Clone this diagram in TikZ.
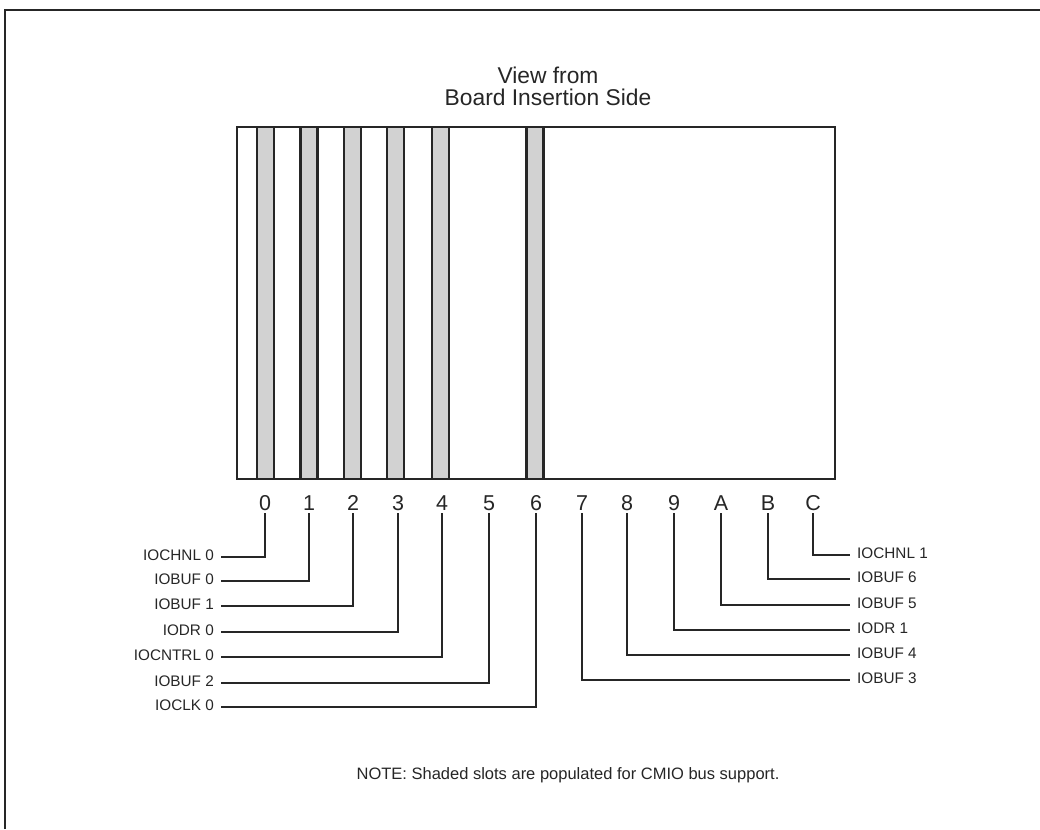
\documentclass[tikz,border=0pt]{standalone}
\usepackage{fontspec}
\setmainfont{Liberation Sans}
\newcommand{\slotshade}[1]{%
  \fill[gray!35] (#1-8.5,127) rectangle (#1+8.5,479);
  \draw[line width=2.2pt] (#1-8.5,127) -- (#1-8.5,479) (#1+8.5,127) -- (#1+8.5,479);}
\tikzset{
  digit/.style={anchor=base, font=\fontsize{21.5}{22}\selectfont, inner sep=3pt, text depth=0pt},
  pinlab/.style={font=\fontsize{15.3}{16}\selectfont, inner xsep=7pt, inner ysep=0pt, text height=0.72em, text depth=0pt},
  wire/.style={line width=1.7pt}}

\begin{document}
\begin{tikzpicture}[x=1pt, y=-1pt, color=black!85]
  \useasboundingbox (0,0) rectangle (1040,829);
  \draw[line width=2pt] (5,829) -- (5,10) -- (1040,10);
  \node[align=center, font=\fontsize{22.8}{22}\selectfont] (titulo) at (548,86) {View from\\Board Insertion Side};
  \foreach \x in {265.5,309,352.5,395.5,440.5,535} {\slotshade{\x}}
  \draw[line width=2.6pt] (237,127) rectangle (835,479);
  \foreach \s/\px/\py/\t in {0/265/557/IOCHNL 0, 1/309/581/IOBUF 0, 2/353/606/IOBUF 1,
      3/398/632/IODR 0, 4/442/657/IOCNTRL 0, 5/489/683/IOBUF 2, 6/536/707/IOCLK 0}
    {\node[digit] (s\s) at (\px,510) {\s};
     \node[pinlab, anchor=east] (l\s) at (221,\py) {\t};
     \draw[wire] (s\s.south) |- (l\s.east);}
  \foreach \s/\px/\py/\t in {7/582/680/IOBUF 3, 8/627/655/IOBUF 4, 9/674/630/IODR 1,
      A/721/605/IOBUF 5, B/768/579/IOBUF 6, C/813/555/IOCHNL 1}
    {\node[digit] (s\s) at (\px,510) {\s};
     \node[pinlab, anchor=west] (l\s) at (850,\py) {\t};
     \draw[wire] (s\s.south) |- (l\s.west);}
  \node[font=\fontsize{16.5}{18}\selectfont] (nota) at (568,775) {NOTE: Shaded slots are populated for CMIO bus support.};
\end{tikzpicture}
\end{document}
